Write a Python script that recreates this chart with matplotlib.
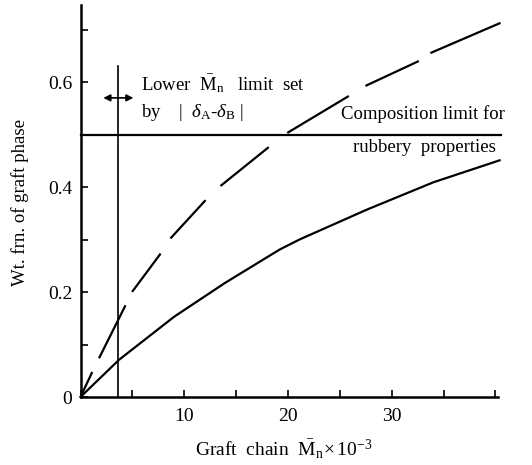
import numpy as np
import matplotlib
matplotlib.use('Agg')
import matplotlib.pyplot as plt
from matplotlib.ticker import MultipleLocator, FixedLocator

plt.rcParams['font.family'] = ['Liberation Serif', 'DejaVu Serif']
plt.rcParams['mathtext.fontset'] = 'custom'
plt.rcParams['mathtext.rm'] = 'Liberation Serif'
plt.rcParams['mathtext.it'] = 'Liberation Serif:italic'
plt.rcParams['lines.scale_dashes'] = False

# curves (graft chain Mn x 1e-3 vs wt. fraction)
dashed_x = [0, 1.14, 1.79, 4.37, 5.0, 7.75, 8.71, 12.1, 13.55, 18.2, 20.0, 25.9, 27.6, 32.7, 33.8, 40.5]
dashed_y = [0, 0.048, 0.074, 0.176, 0.201, 0.274, 0.303, 0.376, 0.403, 0.477, 0.504, 0.574,
            0.594, 0.641, 0.656, 0.713]
solid_x = [0, 3.72, 9.03, 13.9, 19.2, 21.1, 27.6, 34.0, 40.4]
solid_y = [0, 0.071, 0.153, 0.217, 0.281, 0.300, 0.357, 0.409, 0.451]

mn_limit = 3.6          # lower Mn limit
comp_limit = 0.5        # composition limit for rubbery properties
x_labels = [10, 20, 30]
y_labels = [0, 0.2, 0.4, 0.6]

# uneven dash lengths of the hand-drawn curve (points)
dash_pattern = (19.9, 11.0, 42.7, 10.7, 34.4, 13.0, 37.4, 14.8,
                44.6, 16.8, 51.7, 14.0, 42.4, 10.1, 55.0, 10.0)

fig = plt.figure(figsize=(5.32, 4.65), dpi=100)
ax = fig.add_axes([80.5 / 532, 68 / 465, 417 / 532, 392 / 465])

ax.plot(solid_x, solid_y, color='black', lw=1.6, clip_on=False)
ax.plot(dashed_x, dashed_y, color='black', lw=1.6, linestyle=(0, dash_pattern),
        clip_on=False)

ax.plot([mn_limit, mn_limit], [0, 0.63], color='black', lw=1.2)
ax.plot([0, 40.5], [comp_limit, comp_limit], color='black', lw=1.6, clip_on=False)
ax.annotate('', xy=(2.2, 0.57), xytext=(5.1, 0.57),
            arrowprops=dict(arrowstyle='<|-|>', color='black', lw=1.2,
                            mutation_scale=10, shrinkA=0, shrinkB=0))

fs = 13.5
ax.text(5.85, 0.598, r'Lower  $\bar{\mathrm{M}}_\mathrm{n}$   limit  set', fontsize=fs,
        ha='left', va='center')
ax.text(5.85, 0.543, r'by    |  $\delta_\mathrm{A}$-$\delta_\mathrm{B}$ |', fontsize=fs,
        ha='left', va='center')
ax.text(33.0, 0.539, 'Composition limit for', fontsize=fs, ha='center', va='center')
ax.text(33.2, 0.476, 'rubbery  properties', fontsize=fs, ha='center', va='center')

ax.set_xlim(0, 40.2)
ax.set_ylim(0, 0.747)
ax.xaxis.set_major_locator(FixedLocator(x_labels))
ax.xaxis.set_minor_locator(MultipleLocator(5))
ax.yaxis.set_major_locator(FixedLocator(y_labels))
ax.yaxis.set_minor_locator(MultipleLocator(0.1))
ax.set_yticklabels(['0', '0.2', '0.4', '0.6'])
ax.tick_params(which='both', direction='in', length=5, width=1.2, labelsize=14)
ax.tick_params(axis='x', pad=8)
ax.tick_params(axis='y', pad=6)

for side in ['top', 'right']:
    ax.spines[side].set_visible(False)
for side in ['left', 'bottom']:
    ax.spines[side].set_linewidth(1.8)

ax.set_xlabel(r'Graft  chain  $\bar{\mathrm{M}}_\mathrm{n}\!\times10^{-3}$', fontsize=14)
ax.xaxis.set_label_coords(0.487, -0.135)
ax.set_ylabel('Wt. frn. of graft phase', fontsize=13.5)
ax.yaxis.set_label_coords(-0.145, 0.495)
ax.xaxis.label.set_va('center')
ax.yaxis.label.set_va('center')

fig.savefig('out.png', dpi=100)
